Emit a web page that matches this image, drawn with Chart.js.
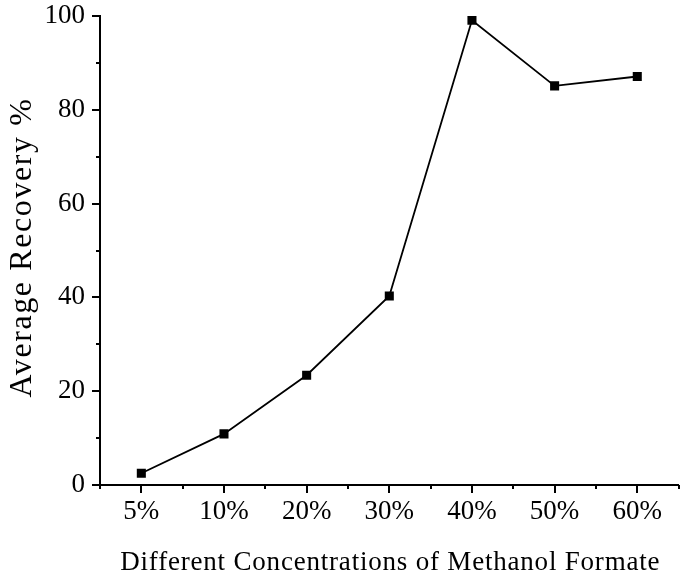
<!DOCTYPE html>
<html><head>
<meta charset="utf-8">
<script src="https://cdn.jsdelivr.net/npm/chart.js@4.4.1/dist/chart.umd.min.js"></script>
<style>html,body{margin:0;padding:0;background:#fff}#wrap{width:685px;height:574px;position:relative}</style>
</head><body><div id="wrap"><canvas id="c"></canvas></div>
<script>
const categories = ['5%', '10%', '20%', '30%', '40%', '50%', '60%'];
const recovery = [2.5, 10.9, 23.4, 40.3, 99.1, 85.1, 87.1];
const yMin = 0, yMax = 100, yStep = 20, yMinorStep = 10;
const xTitle = 'Different Concentrations of Methanol Formate';
const yTitle = 'Average Recovery %';

const FONT = "'Liberation Serif', 'Times New Roman', serif";

const decorPlugin = {
  id: 'originDecor',
  afterDraw(chart) {
    const ctx = chart.ctx;
    const x = chart.scales.x, y = chart.scales.y;
    ctx.save();
    ctx.strokeStyle = '#000';
    ctx.lineWidth = 2;
    ctx.beginPath();
    for (let v = yMin; v <= yMax; v += yMinorStep) {
      const py = Math.round(y.getPixelForValue(v));
      const len = (v % yStep === 0) ? 8 : 4;
      ctx.moveTo(y.right - len, py);
      ctx.lineTo(y.right, py);
    }
    const n = categories.length;
    const half = (x.getPixelForValue(1) - x.getPixelForValue(0)) / 2;
    for (let i = 0; i < n; i++) {
      const px = Math.round(x.getPixelForValue(i));
      ctx.moveTo(px, x.top);
      ctx.lineTo(px, x.top + 8);
    }
    for (let i = 0; i <= n; i++) {
      const px = Math.round(x.getPixelForValue(0) - half + 2 * half * i);
      ctx.moveTo(px, x.top);
      ctx.lineTo(px, x.top + 4);
    }
    ctx.stroke();

    // axis titles
    ctx.fillStyle = '#000';
    ctx.textBaseline = 'alphabetic';
    ctx.textAlign = 'center';
    const ca = chart.chartArea;
    ctx.font = '27px ' + FONT;
    if ('letterSpacing' in ctx) ctx.letterSpacing = '0.8px';
    ctx.fillText(xTitle, (ca.left + ca.right) / 2 + 1, 570);
    ctx.font = '32px ' + FONT;
    if ('letterSpacing' in ctx) ctx.letterSpacing = '1.6px';
    ctx.translate(31, (ca.top + ca.bottom) / 2 - 3);
    ctx.rotate(-Math.PI / 2);
    ctx.fillText(yTitle, 0, 0);
    ctx.restore();
  }
};

new Chart(document.getElementById('c'), {
  type: 'line',
  data: {
    labels: categories,
    datasets: [{
      data: recovery,
      borderColor: '#000',
      borderWidth: 1.8,
      backgroundColor: '#000',
      pointStyle: 'rect',
      pointRadius: 6.4,
      pointHoverRadius: 6.4,
      pointBorderWidth: 0,
      pointBackgroundColor: '#000',
      tension: 0,
      fill: false
    }]
  },
  options: {
    responsive: true,
    maintainAspectRatio: false,
    animation: false,
    events: [],
    layout: { padding: { top: 16, right: 6, left: 0, bottom: 0 } },
    plugins: { legend: { display: false }, tooltip: { enabled: false } },
    scales: {
      x: {
        type: 'category',
        offset: true,
        grid: { drawOnChartArea: false, drawTicks: true, tickLength: 8, tickColor: 'rgba(0,0,0,0)' },
        border: { display: true, color: '#000', width: 2 },
        ticks: { color: '#000', padding: 3, font: { family: FONT, size: 27 }, maxRotation: 0, autoSkip: false },
        title: { display: false },
        afterFit(s) { s.height = 89; s.paddingLeft = 0; s.paddingRight = 0; }
      },
      y: {
        min: yMin, max: yMax,
        grid: { drawOnChartArea: false, drawTicks: true, tickLength: 8, tickColor: 'rgba(0,0,0,0)' },
        border: { display: true, color: '#000', width: 2 },
        ticks: { stepSize: yStep, color: '#000', padding: 7, font: { family: FONT, size: 27 } },
        title: { display: false },
        afterFit(s) { s.width = 100; s.paddingTop = 0; s.paddingBottom = 0; }
      }
    }
  },
  plugins: [decorPlugin]
});
</script>
</body></html>
